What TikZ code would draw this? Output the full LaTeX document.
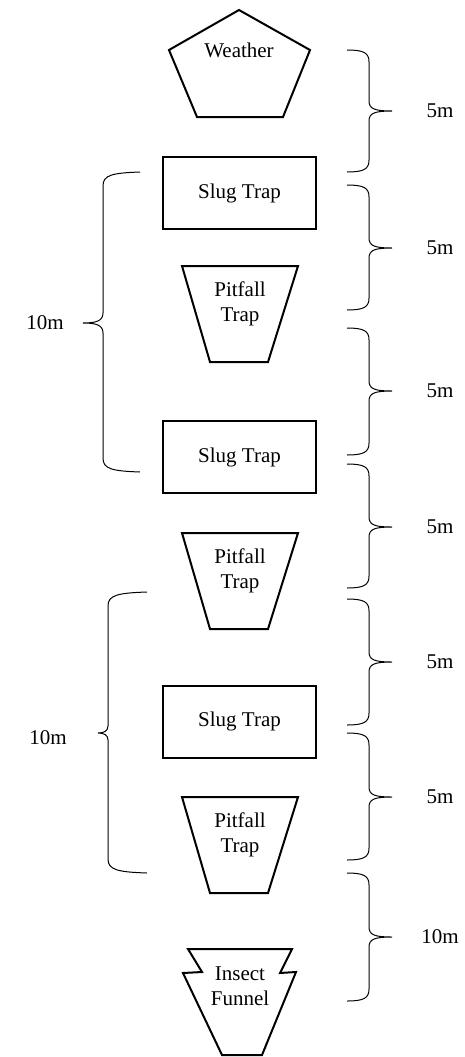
\documentclass[tikz,border=0pt]{standalone}
\usepackage{fontspec}
\setmainfont{Liberation Serif}

\tikzset{
  shapeline/.style={draw,line width=2pt,line join=miter},
  slugbox/.style={shapeline,rectangle,minimum width=153pt,minimum height=72pt,
    inner sep=0pt,font=\fontsize{21}{25}\selectfont},
  sitetext/.style={align=center,inner sep=0pt,font=\fontsize{21}{25}\selectfont},
  bracket/.style={line width=1pt},
}

% right-hand brace: top y, tip y, bottom y, label name, label text
\newcommand{\rightbrace}[5]{%
  \draw[bracket] (347,#1) .. controls (364,#1) and (369,#1+3) .. (369,#1+12)
    -- (369,#2-10) .. controls (369,#2-2) and (375,#2) .. (392,#2)
    .. controls (375,#2) and (369,#2+2) .. (369,#2+10)
    -- (369,#3-12) .. controls (369,#3-3) and (364,#3) .. (347,#3);
  \node[sitetext] (#4) at (440,#2) {#5};
}

\begin{document}
\begin{tikzpicture}[x=1pt,y=-1pt]
  \useasboundingbox (0,0) rectangle (465,1057);

  % weather station
  \draw[shapeline] (239,10) -- (310,50) -- (283,117) -- (197,117) -- (169,50) -- cycle;
  \node[sitetext] (weather) at (239,50) {Weather};

  % slug traps
  \node[slugbox] (slug1) at (239.5,193) {Slug Trap};
  \node[slugbox] (slug2) at (239.5,457) {Slug Trap};
  \node[slugbox] (slug3) at (239.5,721.5) {Slug Trap};

  % pitfall traps
  \draw[shapeline] (182,266) -- (298,266) -- (268,362) -- (210,362) -- cycle;
  \node[sitetext] (pit1) at (240,304) {Pitfall\\Trap};
  \draw[shapeline] (182,533) -- (298,533) -- (268,629) -- (210,629) -- cycle;
  \node[sitetext] (pit2) at (240,571) {Pitfall\\Trap};
  \draw[shapeline] (182,797) -- (298,797) -- (268,893) -- (210,893) -- cycle;
  \node[sitetext] (pit3) at (240,835) {Pitfall\\Trap};

  % insect funnel
  \draw[shapeline] (188,949) -- (292,949) -- (280,973) -- (296,972) -- (262,1055)
    -- (222,1055) -- (183,973) -- (202,972) -- cycle;
  \node[sitetext] (funnel) at (240,986) {Insect\\Funnel};

  % spacings on the right
  \rightbrace{50}{111}{172}{gap1}{5m}
  \rightbrace{185}{248}{310}{gap2}{5m}
  \rightbrace{328}{391}{455}{gap3}{5m}
  \rightbrace{464}{527}{588}{gap4}{5m}
  \rightbrace{599}{662}{725}{gap5}{5m}
  \rightbrace{733}{797}{860}{gap6}{5m}
  \rightbrace{873}{937}{1001}{gap7}{10m}

  % spacings on the left
  \draw[bracket] (140,172) .. controls (112,173) and (103,175) .. (103,186)
    -- (103,313) .. controls (103,321) and (96,323) .. (83,323)
    .. controls (96,323) and (103,325) .. (103,333)
    -- (103,458) .. controls (103,469) and (112,471) .. (140,472);
  \node[sitetext] (span1) at (45,323) {10m};
  \draw[bracket] (147,592) .. controls (118,593) and (108,595) .. (108,606)
    -- (108,726) .. controls (108,731) and (104,733) .. (98,733)
    .. controls (104,733) and (108,735) .. (108,740)
    -- (108,859) .. controls (108,870) and (118,872) .. (147,873);
  \node[sitetext] (span2) at (48,738) {10m};
\end{tikzpicture}
\end{document}
